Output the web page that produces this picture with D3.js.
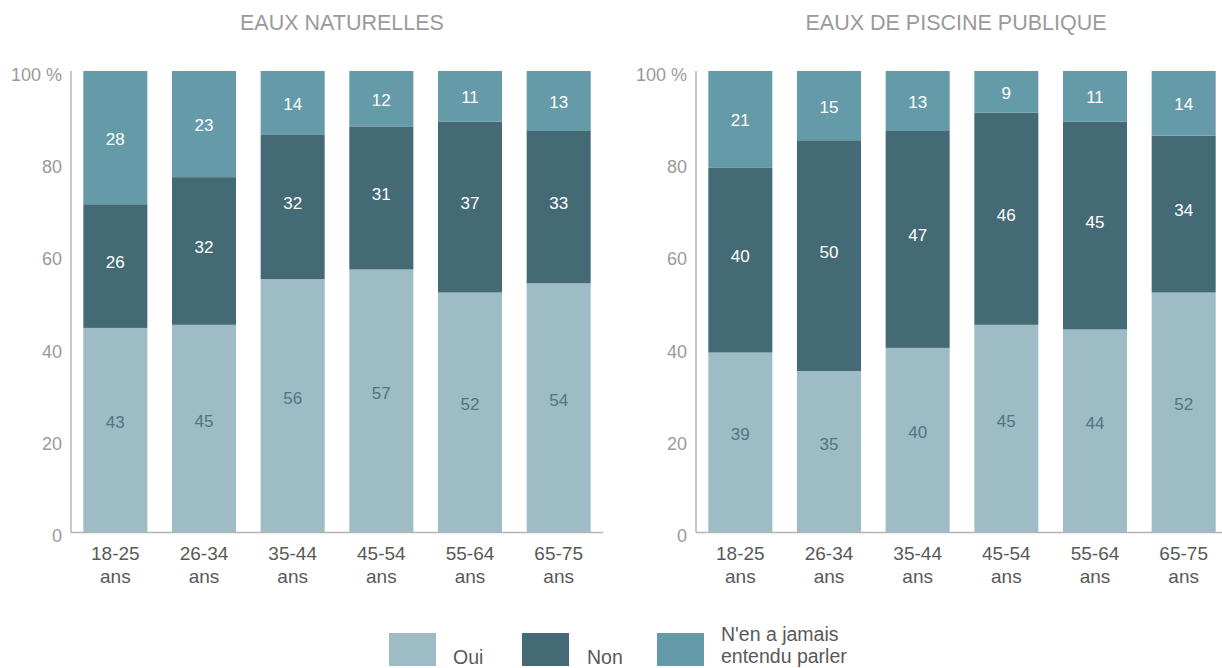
<!DOCTYPE html>
<html>
<head>
<meta charset="utf-8">
<script src="https://cdn.jsdelivr.net/npm/d3@7/dist/d3.min.js"></script>
<style>
  html, body { margin: 0; padding: 0; background: #fff; }
  svg { display: block; font-family: "Liberation Sans", Arial, sans-serif; }
</style>
</head>
<body>
<svg id="chart" width="1222" height="668"></svg>
<script>
// ---- data ----
const categories = ["18-25 ans", "26-34 ans", "35-44 ans", "45-54 ans", "55-64 ans", "65-75 ans"];
const seriesNames = ["Oui", "Non", "N'en a jamais entendu parler"];
const panelTitles = ["EAUX NATURELLES", "EAUX DE PISCINE PUBLIQUE"];

const natOui    = [43, 45, 56, 57, 52, 54];
const natNon    = [26, 32, 32, 31, 37, 33];
const natJamais = [28, 23, 14, 12, 11, 13];

const pisOui    = [39, 35, 40, 45, 44, 52];
const pisNon    = [40, 50, 47, 46, 45, 34];
const pisJamais = [21, 15, 13, 9, 11, 14];

const yTicks = [0, 20, 40, 60, 80, 100];
const yTickLabels = ["0", "20", "40", "60", "80", "100 %"];

const colors = ["#9dbcc5", "#446b75", "#659aa8"];
const labelColors = ["#4f7681", "#ffffff", "#ffffff"];
const labelShift = [-8, -4, 1];

// ---- layout ----
const svg = d3.select("#chart");
const yTop = 71, yBottom = 532.5;
const y = d3.scaleLinear().domain([0, 100]).range([yBottom, yTop]);

const panels = [
  { title: panelTitles[0], x0: 71, x1: 603, series: [natOui, natNon, natJamais], titleX: 342 },
  { title: panelTitles[1], x0: 696, x1: 1228, series: [pisOui, pisNon, pisJamais], titleX: 956 }
];

panels.forEach(p => {
  const x = d3.scaleBand().domain(categories).range([p.x0, p.x1])
    .paddingInner(0.278).paddingOuter(0.139);

  const rows = categories.map((c, i) => {
    const vals = p.series.map(s => s[i]);
    const total = d3.sum(vals);
    const r = { cat: c, total };
    seriesNames.forEach((n, k) => { r[n] = vals[k] / total * 100; r["raw" + k] = vals[k]; });
    return r;
  });
  const stacked = d3.stack().keys(seriesNames)(rows);

  const g = svg.append("g");

  // title
  g.append("text")
    .attr("x", p.titleX).attr("y", 30)
    .attr("text-anchor", "middle")
    .attr("font-size", 21.5)
    .attr("fill", "#9a9a9a")
    .text(p.title);

  // bars
  stacked.forEach((layer, k) => {
    g.append("g").selectAll("rect").data(layer).join("rect")
      .attr("x", d => x(d.data.cat))
      .attr("width", x.bandwidth())
      .attr("y", d => y(d[1]))
      .attr("height", d => y(d[0]) - y(d[1]))
      .attr("fill", colors[k]);

    g.append("g").selectAll("text").data(layer).join("text")
      .attr("x", d => x(d.data.cat) + x.bandwidth() / 2)
      .attr("y", d => (y(d[0]) + y(d[1])) / 2 + labelShift[k])
      .attr("dy", "0.35em")
      .attr("text-anchor", "middle")
      .attr("font-size", 17)
      .attr("fill", labelColors[k])
      .text(d => d.data["raw" + k]);
  });

  // y axis
  const yAxis = d3.axisLeft(y).tickValues(yTicks).tickSize(0).tickPadding(9)
    .tickFormat((d, i) => yTickLabels[i]);
  const ya = g.append("g").attr("transform", `translate(${p.x0},0)`).call(yAxis);
  ya.select(".domain").remove();
  ya.selectAll("text").attr("font-size", 18).attr("fill", "#9a9a9a")
    .attr("font-family", "Liberation Sans, Arial, sans-serif").attr("dy", "0.52em");

  // axis lines
  g.append("line").attr("x1", p.x0).attr("x2", p.x0).attr("y1", y(100)).attr("y2", y(0))
    .attr("stroke", "#b5b5b5").attr("stroke-width", 1.5);
  g.append("line").attr("x1", p.x0).attr("x2", p.x1).attr("y1", y(0)).attr("y2", y(0))
    .attr("stroke", "#b5b5b5").attr("stroke-width", 1.5);

  // x axis labels (two lines)
  const xa = g.append("g").selectAll("text").data(categories).join("text")
    .attr("text-anchor", "middle")
    .attr("font-size", 19)
    .attr("fill", "#595959");
  xa.each(function (c) {
    const parts = c.split(" ");
    const t = d3.select(this);
    parts.forEach((part, j) => {
      t.append("tspan")
        .attr("x", x(c) + x.bandwidth() / 2)
        .attr("y", 560 + j * 22.5)
        .text(part);
    });
  });
});

// ---- legend ----
const legendItems = [
  { sx: 389, tx: 453, lines: ["Oui"], ly: [664] },
  { sx: 522, tx: 587, lines: ["Non"], ly: [664] },
  { sx: 657, tx: 721, lines: ["N'en a jamais", "entendu parler"], ly: [641, 663] }
];
const lg = svg.append("g");
seriesNames.forEach((n, k) => {
  const it = legendItems[k];
  lg.append("rect").attr("x", it.sx).attr("y", 633).attr("width", 47).attr("height", 33)
    .attr("fill", colors[k]);
  const t = lg.append("text").attr("font-size", 19.5).attr("fill", "#595959");
  it.lines.forEach((ln, j) => {
    t.append("tspan").attr("x", it.tx).attr("y", it.ly[j]).text(ln);
  });
});
</script>
</body>
</html>
